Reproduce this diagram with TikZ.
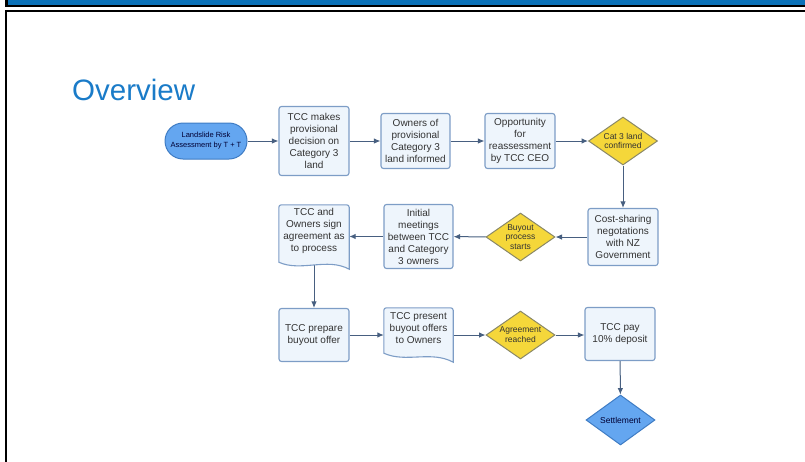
\documentclass[tikz,border=0pt]{standalone}
\usepackage{fontspec}
\setmainfont{Liberation Sans}
\usetikzlibrary{shapes.geometric,arrows.meta,backgrounds}
\definecolor{boxfill}{HTML}{EEF5FC}
\definecolor{boxline}{HTML}{7D9DC6}
\definecolor{yel}{HTML}{F5D73A}
\definecolor{yelline}{HTML}{8A8866}
\definecolor{bluefill}{HTML}{64A6F0}
\definecolor{blueline}{HTML}{3F7CC4}
\definecolor{arrowc}{HTML}{475F80}
\definecolor{titlec}{HTML}{1A7BC8}
\definecolor{barblue}{HTML}{0B72B9}
\definecolor{txt}{HTML}{333333}
\begin{document}
\begin{tikzpicture}[x=1pt,y=-1pt,
  box/.style={draw=boxline, fill=boxfill, line width=1.1pt, rounded corners=2.5pt,
    minimum width=70pt, align=center, inner sep=0pt,
    font=\fontsize{10}{12}\selectfont, text=txt},
  docnode/.style={minimum width=70pt, align=center, inner sep=0pt,
    font=\fontsize{10}{12}\selectfont, text=txt},
  docline/.style={draw=boxline, fill=boxfill, line width=1.1pt},
  dec/.style={diamond, draw=yelline, fill=yel, line width=1pt,
    minimum width=69pt, minimum height=48pt, shape aspect=1.44, inner sep=0pt,
    align=center, font=\fontsize{8.5}{9.8}\selectfont, text=txt},
  bluedec/.style={dec, draw=blueline, fill=bluefill, text=black!80!blue},
  pill/.style={draw=blueline, fill=bluefill, line width=1pt, rounded corners=18pt,
    minimum width=82pt, minimum height=36pt, inner sep=0pt, align=center,
    font=\fontsize{7.5}{10}\selectfont, text=black!80!blue},
  conn/.style={draw=arrowc, line width=1pt, -{Latex[length=6.5pt,width=5.5pt]}}
]
\useasboundingbox (0,0) rectangle (805,461);
% frame
\fill[black] (5,0) rectangle (805,6.5);
\fill[barblue] (8,0) rectangle (805,4.5);
\draw[line width=2pt] (5.5,470) -- (5.5,10.5) -- (815,10.5);
% title
\node[anchor=base west, inner sep=0pt, text=titlec, font=\fontsize{29.5}{30}\selectfont] (title) at (72,100) {Overview};
% nodes
\node[pill] (p) at (206,141) {Landslide Risk\\Assessment by T + T};
\node[box, minimum height=69pt] (b1) at (314,141) {TCC makes\\provisional\\decision on\\Category 3\\land};
\node[box, minimum width=69pt, minimum height=55pt] (b2) at (415.5,141) {Owners of\\provisional\\Category 3\\land informed};
\node[box, minimum height=55pt] (b3) at (520,141) {Opportunity\\for\\reassessment\\by TCC CEO};
\node[dec] (d1) at (623,141) {Cat 3 land\\confirmed};
\node[box, minimum height=57pt] (b4) at (623,237) {Cost-sharing\\negotations\\with NZ\\Government};
\node[dec] (d2) at (520.5,237) {Buyout\\process\\starts};
\node[box, minimum width=69pt, minimum height=64pt] (b5) at (418.5,236.5) {Initial\\meetings\\between TCC\\and Category\\3 owners};
\node[docnode, minimum height=52pt] (doc1) at (314,231) {TCC and\\Owners sign\\agreement as\\to process};
\node[box, minimum height=53pt] (b6) at (314,335) {TCC prepare\\buyout offer};
\node[docnode, minimum width=69pt, minimum height=40pt] (doc2) at (418.5,328) {TCC present\\buyout offers\\to Owners};
\node[dec] (d3) at (520.5,335) {Agreement\\reached};
\node[box, minimum height=53pt] (b7) at (620,334) {TCC pay\\10\% deposit};
\node[bluedec, minimum height=50pt] (d4) at (620.5,420) {Settlement};
% connectors
\begin{scope}[on background layer]
\draw[conn] (p) -- (b1);
\draw[conn] (b1) -- (b2);
\draw[conn] (b2) -- (b3);
\draw[conn] (b3) -- (d1);
\draw[conn] (d1) -- (b4);
\draw[conn] (b4) -- (d2);
\draw[conn] (d2) -- (b5);
\draw[conn] (b5.west) -- (b5.west -| doc1.east);
\draw[conn] (doc1.south) -- (b6);
\draw[conn] (b6.east) -- (b6.east -| doc2.west);
\draw[conn] (b6.east -| doc2.east) -- (d3);
\draw[conn] (d3) -- (b7.west |- d3);
\draw[conn] (b7) -- (d4);
\end{scope}
% document outlines
\begin{scope}[on background layer]
\draw[docline] ([yshift=-5pt]doc1.south west)
  {[rounded corners=2.5pt] -- (doc1.north west) -- (doc1.north east)}
  -- ([yshift=-12pt]doc1.south east)
  .. controls +(-22,-12) and +(22,10) .. cycle;
\draw[docline] ([yshift=-5pt]doc2.south west)
  {[rounded corners=2.5pt] -- (doc2.north west) -- (doc2.north east)}
  -- ([yshift=-14pt]doc2.south east)
  .. controls +(-22,-12) and +(22,10) .. cycle;
\end{scope}
\end{tikzpicture}
\end{document}
